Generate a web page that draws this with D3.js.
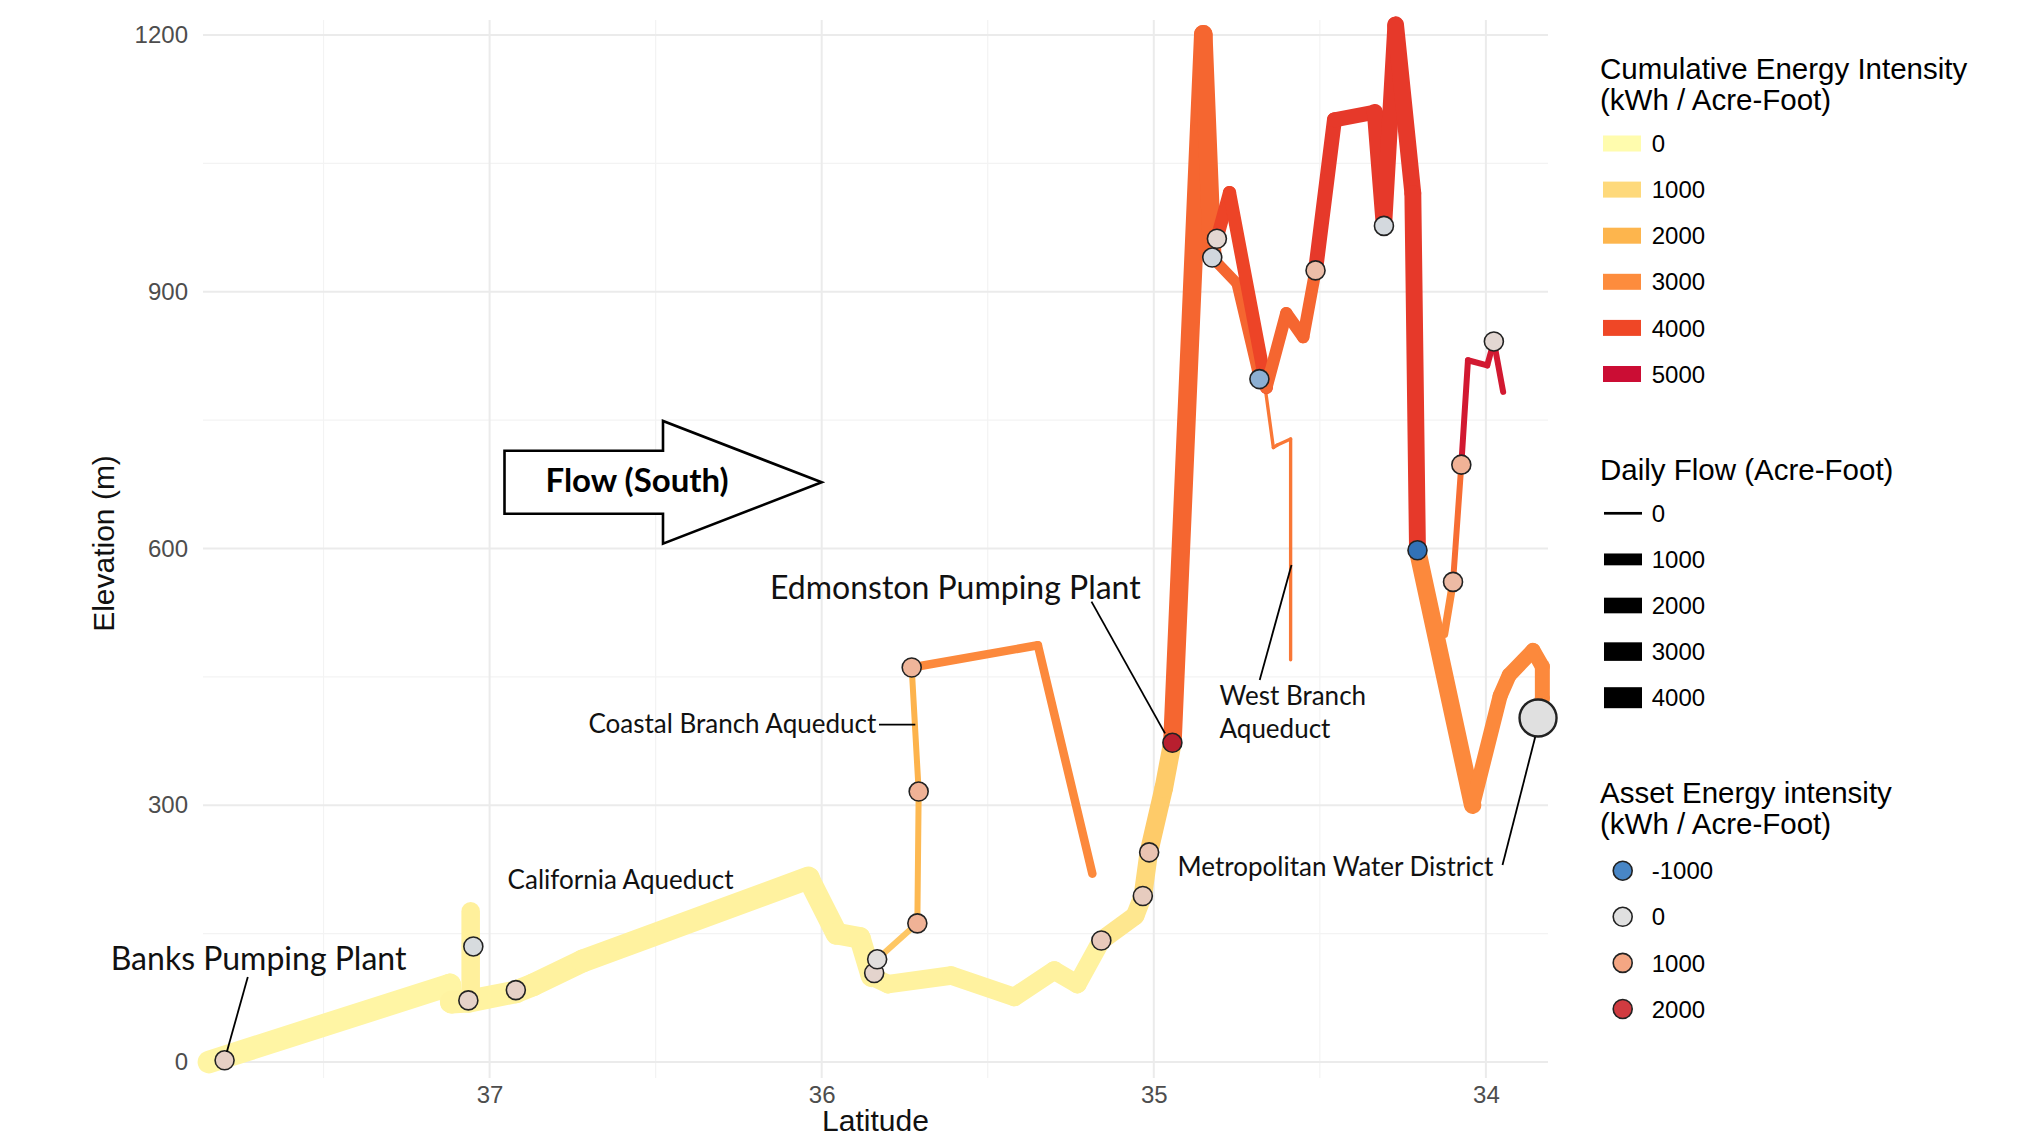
<!DOCTYPE html>
<html>
<head>
<meta charset="utf-8">
<script src="https://cdn.jsdelivr.net/npm/d3@7"></script>
<style>
body { margin: 0; background: #fff; }
svg { display: block; }
</style>
</head>
<body>
<div id="chart"></div>
<script>
// rows: latitude, elevation (m), cumulative energy (kWh / AF), daily flow (AF)
var california_aqueduct = [
	[37.845, 0, 200, 4800],
	[37.12, 90, 200, 4800],
	[37.115, 70, 250, 4800],
	[37.064, 71, 250, 4800],
	[36.921, 82, 300, 4800],
	[36.87, 90, 300, 4800],
	[36.72, 118, 300, 4800],
	[36.04, 215, 300, 4500],
	[35.955, 150, 300, 4200],
	[35.885, 145, 300, 4200],
	[35.85, 100, 300, 3000],
	[35.80, 91, 300, 3000],
	[35.61, 101, 300, 3000],
	[35.42, 76, 300, 3000],
	[35.30, 107, 300, 3000],
	[35.23, 91, 300, 3000],
	[35.158, 142, 600, 3000],
	[35.056, 171, 600, 3000],
	[35.033, 194, 1000, 3000],
	[35.015, 245, 1400, 3000],
	[34.97, 320, 1400, 3000],
	[34.944, 373, 1400, 3000]
];
var san_luis = [
	[37.057, 71, 350, 3000],
	[37.057, 176, 350, 3000]
];
var coastal_branch = [
	[35.833, 120, 1500, 130],
	[35.712, 162, 1900, 130],
	[35.708, 316, 2050, 130],
	[35.729, 461, 3050, 400],
	[35.349, 487, 3050, 400],
	[35.185, 220, 3050, 400]
];
var edmonston_lift = [
	[34.944, 373, 3550, 3000],
	[34.851, 1201, 3550, 3000],
	[34.824, 940, 3550, 3000]
];
var west_branch = [
	[34.824, 940, 3550, 800],
	[34.75, 910, 3550, 800],
	[34.682, 798, 3300, 5],
	[34.664, 786, 3300, 5],
	[34.64, 718, 3300, 5],
	[34.628, 721, 3300, 5],
	[34.588, 728, 3300, 5],
	[34.588, 470, 3300, 5]
];
var east_branch = [
	[34.81, 962, 4050, 1300],
	[34.772, 1016, 4050, 1300],
	[34.661, 788, 3550, 1100],
	[34.601, 875, 3550, 1100],
	[34.55, 847, 3550, 1100],
	[34.513, 925, 4250, 1800],
	[34.456, 1101, 4250, 1800],
	[34.334, 1110, 4250, 2200],
	[34.307, 977, 4250, 2200],
	[34.272, 1212, 4250, 2400],
	[34.22, 1015, 4250, 2400],
	[34.206, 598, 3050, 2600],
	[34.04, 300, 3050, 1800],
	[33.957, 428, 3050, 1800],
	[33.93, 452, 3050, 1800],
	[33.858, 481, 3050, 1800],
	[33.83, 462, 3050, 1800],
	[33.83, 425, 3050, 1800],
	[33.843, 402, 3050, 1800]
];
var east_spur = [
	[34.125, 500, 3050, 300],
	[34.099, 561, 3450, 130],
	[34.074, 698, 4800, 130],
	[34.054, 820, 4800, 130],
	[33.996, 814, 4800, 130],
	[33.976, 842, 4800, 130],
	[33.948, 783, 4800, 130]
];

// assets (pumps, plants, delivery)
var asset_lat = [37.798, 37.049, 37.064, 36.921, 35.842, 35.833, 35.712, 35.708, 35.729, 35.158, 35.033, 35.014, 34.944, 34.81, 34.824, 34.682, 34.513, 34.307, 34.206, 34.099, 34.074, 33.976, 33.843];
var asset_elev = [2, 135, 72, 84, 104, 120, 162, 316, 461, 142, 194, 245, 373, 962, 940, 798, 925, 977, 598, 561, 698, 842, 402];
var asset_energy = [300, -60, 250, 280, 200, 30, 800, 800, 750, 400, 350, 500, 2400, 150, -100, -550, 600, -80, -1250, 650, 800, 150, 0];
var asset_kind = ['pump', 'pump', 'pump', 'pump', 'pump', 'pump', 'pump', 'pump', 'pump', 'pump', 'pump', 'pump', 'pump', 'pump', 'pump', 'pump', 'pump', 'pump', 'pump', 'pump', 'pump', 'pump', 'delivery'];

var lat_ticks = [37, 36, 35, 34];
var lat_minor = [37.5, 36.5, 35.5, 34.5];
var elev_ticks = [0, 300, 600, 900, 1200];
var elev_minor = [150, 450, 750, 1050];
var energy_ticks = [0, 1000, 2000, 3000, 4000, 5000];
var flow_ticks = [0, 1000, 2000, 3000, 4000];
var asset_ticks = [-1000, 0, 1000, 2000];


var chart_width = 2031;
var chart_height = 1139;
var plot_left = 203, plot_right = 1548, plot_top = 20, plot_bottom = 1078;
var sans = "'Liberation Sans', Arial, sans-serif";
var note_font = "Lato, 'Open Sans', sans-serif";

var svg = d3.select('#chart')
	.append('svg')
	.attr('width', chart_width)
	.attr('height', chart_height)
	.style('background', '#fff');

// scales
var x_scale = d3.scaleLinear().domain([37.863, 33.813]).range([plot_left, plot_right]);
var y_scale = d3.scaleLinear().domain([-18.7, 1217.6]).range([plot_bottom, plot_top]);
var energy_color = d3.scaleLinear()
	.domain(energy_ticks)
	.range(['#fffcae', '#fed97b', '#fdb54d', '#fd8c3d', '#ef4726', '#cb0d34'])
	.clamp(true);
var flow_width = d3.scaleSqrt().domain([0, 4000]).range([2.7, 21]);
var asset_color = d3.scaleLinear()
	.domain([-1500, -1000, 0, 1000, 2000, 2500])
	.range(['#1c5ea8', '#4886c6', '#e0e0e0', '#f4a683', '#d03b40', '#b2182b'])
	.clamp(true);

// grid
var grid = svg.append('g');
function hline(vals, color, w){
	grid.append('g').selectAll('line').data(vals).enter().append('line')
		.attr('x1', plot_left).attr('x2', plot_right)
		.attr('y1', function(d){ return y_scale(d); })
		.attr('y2', function(d){ return y_scale(d); })
		.attr('stroke', color).attr('stroke-width', w);
}
function vline(vals, color, w){
	grid.append('g').selectAll('line').data(vals).enter().append('line')
		.attr('y1', plot_top).attr('y2', plot_bottom)
		.attr('x1', function(d){ return x_scale(d); })
		.attr('x2', function(d){ return x_scale(d); })
		.attr('stroke', color).attr('stroke-width', w);
}
hline(elev_minor, '#f3f3f3', 1.2);
vline(lat_minor, '#f3f3f3', 1.2);
hline(elev_ticks, '#ebebeb', 2);
vline(lat_ticks, '#ebebeb', 2);

// axes
var y_axis = d3.axisLeft(y_scale).tickValues(elev_ticks).tickFormat(d3.format('d')).tickSize(0).tickPadding(15);
svg.append('g')
	.attr('transform', 'translate(' + plot_left + ',0)')
	.call(y_axis)
	.call(function(g){ g.select('.domain').remove(); })
	.attr('font-family', sans).attr('font-size', 24)
	.selectAll('text').attr('fill', '#4d4d4d');

var x_axis = d3.axisBottom(x_scale).tickValues(lat_ticks).tickFormat(d3.format('d')).tickSize(0).tickPadding(8);
svg.append('g')
	.attr('transform', 'translate(0,' + plot_bottom + ')')
	.call(x_axis)
	.call(function(g){ g.select('.domain').remove(); })
	.attr('font-family', sans).attr('font-size', 24)
	.selectAll('text').attr('fill', '#4d4d4d');

svg.append('text')
	.attr('transform', 'translate(114,543.5) rotate(-90)')
	.attr('text-anchor', 'middle')
	.attr('font-family', sans).attr('font-size', 30)
	.attr('fill', '#111')
	.text('Elevation (m)');
svg.append('text')
	.attr('x', (plot_left + plot_right) / 2).attr('y', 1131)
	.attr('text-anchor', 'middle')
	.attr('font-family', sans).attr('font-size', 30)
	.attr('fill', '#111')
	.text('Latitude');

// flow arrow
svg.append('polygon')
	.attr('points', '504.5,450.8 663,450.8 663,421 821.7,482.3 663,543.6 663,513.7 504.5,513.7')
	.attr('fill', '#fff').attr('stroke', '#000').attr('stroke-width', 2.6);
svg.append('text')
	.attr('x', 545.5).attr('y', 491.7)
	.attr('font-family', note_font).attr('font-weight', 'bold').attr('font-size', 33)
	.attr('fill', '#000')
	.text('Flow (South)');

// aqueduct paths, one segment at a time
var routes = [california_aqueduct, san_luis, coastal_branch, edmonston_lift, west_branch, east_branch, east_spur];
var lines = svg.append('g');
routes.forEach(function(route){
	lines.append('g').selectAll('line')
		.data(d3.pairs(route))
		.enter()
		.append('line')
		.attr('x1', function(d){ return x_scale(d[0][0]); })
		.attr('y1', function(d){ return y_scale(d[0][1]); })
		.attr('x2', function(d){ return x_scale(d[1][0]); })
		.attr('y2', function(d){ return y_scale(d[1][1]); })
		.attr('stroke', function(d){ return energy_color(d[0][2]); })
		.attr('stroke-width', function(d){ return flow_width(d[0][3]); })
		.attr('stroke-linecap', 'round');
});

// assets
svg.append('g').selectAll('circle')
	.data(d3.range(asset_lat.length))
	.enter()
	.append('circle')
	.attr('cx', function(i){ return x_scale(asset_lat[i]); })
	.attr('cy', function(i){ return y_scale(asset_elev[i]); })
	.attr('r', function(i){ return asset_kind[i] == 'delivery' ? 18.5 : 9.5; })
	.attr('fill', function(i){ return asset_color(asset_energy[i]); })
	.attr('stroke', '#222')
	.attr('stroke-width', function(i){ return asset_kind[i] == 'delivery' ? 2.4 : 1.6; });

// annotations
var notes = [
	{text: 'Banks Pumping Plant', x: 110.7, y: 970, size: 32, line: [247.8, 977, 226.8, 1052]},
	{text: 'California Aqueduct', x: 507.6, y: 889.4, size: 26},
	{text: 'Coastal Branch Aqueduct', x: 588.4, y: 733.4, size: 26, line: [879, 724.6, 915.3, 724.6]},
	{text: 'Edmonston Pumping Plant', x: 770, y: 598.5, size: 32, line: [1091.5, 601.6, 1165, 733.4]},
	{text: 'West Branch', x: 1219.5, y: 704.8, size: 26, line: [1259.7, 680, 1291.5, 565]},
	{text: 'Aqueduct', x: 1219.5, y: 737.8, size: 26},
	{text: 'Metropolitan Water District', x: 1177.6, y: 876, size: 26, line: [1502.5, 865, 1535.2, 737]}
];
var note_g = svg.append('g');
notes.forEach(function(n){
	note_g.append('text')
		.attr('x', n.x).attr('y', n.y)
		.attr('font-family', note_font).attr('font-size', n.size)
		.attr('fill', '#111')
		.text(n.text);
	if (n.line) {
		note_g.append('line')
			.attr('x1', n.line[0]).attr('y1', n.line[1])
			.attr('x2', n.line[2]).attr('y2', n.line[3])
			.attr('stroke', '#000').attr('stroke-width', 1.8);
	}
});

// legends
var legend = svg.append('g').attr('font-family', sans).attr('fill', '#000');
function legend_title(rows, y0){
	rows.forEach(function(t, i){
		legend.append('text')
			.attr('x', 1600).attr('y', y0 + i * 30.5)
			.attr('font-size', 29.5)
			.text(t);
	});
}
function legend_label(v, cy){
	legend.append('text')
		.attr('x', 1651.7).attr('y', cy + 8.6)
		.attr('font-size', 24)
		.text(v);
}

legend_title(['Cumulative Energy Intensity', '(kWh / Acre-Foot)'], 79);
energy_ticks.forEach(function(v, i){
	var cy = 143.5 + i * 46.1;
	legend.append('rect')
		.attr('x', 1603).attr('y', cy - 8).attr('width', 38).attr('height', 16)
		.attr('fill', energy_color(v));
	legend_label(v, cy);
});

legend_title(['Daily Flow (Acre-Foot)'], 480);
flow_ticks.forEach(function(v, i){
	var cy = 513.3 + i * 46.1;
	var h = flow_width(v);
	legend.append('rect')
		.attr('x', 1604).attr('y', cy - h / 2).attr('width', 38).attr('height', h)
		.attr('fill', '#000');
	legend_label(v, cy);
});

legend_title(['Asset Energy intensity', '(kWh / Acre-Foot)'], 803.3);
asset_ticks.forEach(function(v, i){
	var cy = 870.7 + i * 46.1;
	legend.append('circle')
		.attr('cx', 1622.7).attr('cy', cy).attr('r', 9.5)
		.attr('fill', asset_color(v))
		.attr('stroke', '#222').attr('stroke-width', 1.6);
	legend_label(v, cy);
});
</script>
</body>
</html>
